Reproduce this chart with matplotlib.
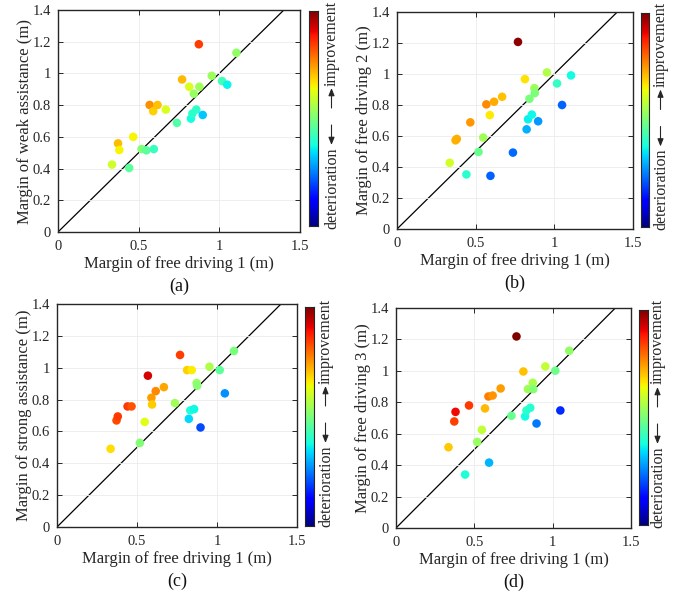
import numpy as np
import matplotlib
matplotlib.use("Agg")
import matplotlib.pyplot as plt
from matplotlib.patches import FancyArrowPatch
from matplotlib.ticker import FormatStrFormatter

plt.rcParams["font.family"] = ["Liberation Serif", "DejaVu Sans"]

# ==============================
# DATA (margins, m)
# ==============================

free_1 = [0.335, 0.372, 0.380, 0.441, 0.466, 0.518, 0.548, 0.568, 0.590, 0.594,
          0.617, 0.668, 0.737, 0.769, 0.813, 0.824, 0.833, 0.842, 0.857, 0.873,
          0.876, 0.897, 0.953, 1.017, 1.049, 1.106]

weak_assist = [0.425, 0.559, 0.517, 0.404, 0.600, 0.523, 0.515, 0.801, 0.762, 0.523,
               0.801, 0.772, 0.688, 0.962, 0.916, 0.715, 0.747, 0.872, 0.772, 1.184,
               0.916, 0.738, 0.985, 0.952, 0.929, 1.130]

free_2 = [0.427, 0.572, 0.581, 0.352, 0.688, 0.497, 0.590, 0.804, 0.735, 0.343,
          0.821, 0.853, 0.493, 1.207, 0.967, 0.643, 0.708, 0.840, 0.738, 0.909,
          0.877, 0.695, 1.010, 0.939, 0.800, 0.991]

strong_assist = [0.491, 0.669, 0.694, 0.757, 0.757, 0.528, 0.660, 0.950, 0.811, 0.769,
                 0.853, 0.878, 0.778, 1.080, 0.985, 0.679, 0.732, 0.985, 0.740, 0.904,
                 0.887, 0.625, 1.006, 0.985, 0.839, 1.105]

free_3 = [0.514, 0.678, 0.739, 0.340, 0.780, 0.548, 0.625, 0.761, 0.837, 0.416,
          0.843, 0.888, 0.714, 1.219, 0.996, 0.710, 0.748, 0.884, 0.765, 0.924,
          0.884, 0.665, 1.028, 1.001, 0.748, 1.128]

ylabels = ["Margin of weak assistance (m)", "Margin of free driving 2 (m)",
           "Margin of strong assistance (m)", "Margin of free driving 3 (m)"]
panel_tags = ["(a)", "(b)", "(c)", "(d)"]
xlabel = "Margin of free driving 1 (m)"

# ==============================
# LAYOUT (pixels: left, right, top, bottom)
# ==============================

W, H = 683, 599
ax_px = [(58, 300, 10, 232), (397, 633, 12, 229), (57, 297, 304, 527), (396, 631, 308, 528)]
cb_px = [(309, 318, 11, 226), (641, 649, 13, 227), (305, 314, 307, 526), (639, 648, 310, 525)]
cb_text_x = [332, 661, 326, 658]


def rect(l, r, t, b):
    return [l / W, (H - b) / H, (r - l) / W, (b - t) / H]


def arrow(xp, y0, y1):
    # vertical arrow, pixel coords measured from the bottom
    a = FancyArrowPatch((xp / W, y0 / H), (xp / W, y1 / H), transform=fig.transFigure,
                        arrowstyle="-|>,head_length=0.45,head_width=0.18",
                        mutation_scale=10, linewidth=0.8, color="#262626",
                        shrinkA=0, shrinkB=0)
    fig.add_artist(a)


fig = plt.figure(figsize=(W / 100, H / 100), dpi=100)

series = [weak_assist, free_2, strong_assist, free_3]
x = np.array(free_1)
txt_col = "#262626"

for k in range(4):
    y = np.array(series[k])
    ax = fig.add_axes(rect(*ax_px[k]))
    ax.grid(True, color="#ebebeb", linewidth=0.6, zorder=0)
    ax.plot([0, 1.4], [0, 1.4], color="black", linewidth=0.9, zorder=1)
    ax.scatter(x, y, c=y - x, cmap="jet", vmin=-0.45, vmax=0.45,
               s=38, edgecolors="none", zorder=2)
    ax.set_xlim(0, 1.5)
    ax.set_ylim(0, 1.4)
    ax.set_xticks([0, 0.5, 1, 1.5])
    ax.set_yticks(np.arange(0, 1.41, 0.2))
    ax.xaxis.set_major_formatter(FormatStrFormatter("%g"))
    ax.yaxis.set_major_formatter(FormatStrFormatter("%g"))
    ax.tick_params(direction="in", length=3.5, width=0.7, top=True, right=True,
                   labelsize=10.5, colors=txt_col, labelcolor=txt_col)
    ax.tick_params(axis="x", pad=6)
    ax.tick_params(axis="y", pad=5)
    for sp in ax.spines.values():
        sp.set_linewidth(1.0)
        sp.set_color(txt_col)
    ax.set_xlabel(xlabel, fontsize=12, color=txt_col, labelpad=2)
    ax.set_ylabel(ylabels[k], fontsize=12, color=txt_col, labelpad=0)

    l, r, t, b = ax_px[k]
    fig.text((l + r) / 2 / W, (H - b - 54) / H, panel_tags[k], fontsize=13,
             ha="center", va="center", color="#111111")

    # colour bar
    cax = fig.add_axes(rect(*cb_px[k]))
    grad = np.linspace(0, 1, 256).reshape(-1, 1)
    cax.imshow(grad, aspect="auto", cmap="jet", origin="lower", extent=[0, 1, 0, 1])
    cax.set_xticks([])
    cax.set_yticks([])
    for sp in cax.spines.values():
        sp.set_linewidth(0.8)
        sp.set_color(txt_col)

    cl, cr, ct, cb = cb_px[k]
    tx = cb_text_x[k]
    yc = H - (ct + cb) / 2 + 2
    fig.text(tx / W, (yc + 31) / H, "improvement", rotation=90, fontsize=11.5,
             ha="center", va="bottom", color=txt_col)
    fig.text(tx / W, (yc - 31) / H, "deterioration", rotation=90, fontsize=11.5,
             ha="center", va="top", color=txt_col)
    arrow(tx - 0.5, yc + 8.5, yc + 28.5)
    arrow(tx - 0.5, yc - 8.5, yc - 28.5)

fig.savefig("out.png", dpi=100)
